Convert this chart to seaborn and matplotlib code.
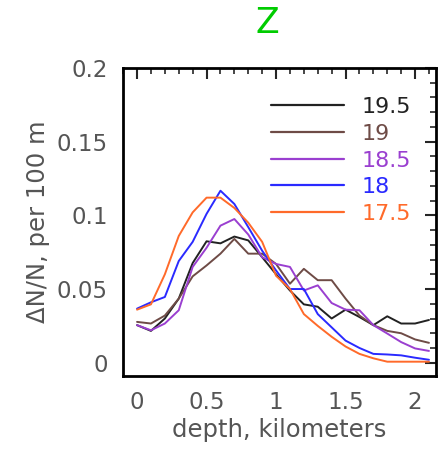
import numpy as np
import pandas as pd
import matplotlib
matplotlib.use("Agg")
import matplotlib.pyplot as plt
import seaborn as sns
from matplotlib.ticker import MultipleLocator

depth = [0.0, 0.1, 0.2, 0.3, 0.4, 0.5, 0.6, 0.7, 0.8, 0.9, 1.0,
         1.1, 1.2, 1.3, 1.4, 1.5, 1.6, 1.7, 1.8, 1.9, 2.0, 2.1]

s195 = [0.0255, 0.0216, 0.030, 0.0435, 0.0676, 0.0824, 0.081, 0.0856, 0.083, 0.0716, 0.060,
        0.049, 0.0396, 0.038, 0.030, 0.036, 0.031, 0.0255, 0.0315, 0.0266, 0.0266, 0.029]
s19 = [0.0277, 0.0266, 0.032, 0.0435, 0.0586, 0.066, 0.074, 0.084, 0.074, 0.074, 0.067,
       0.0536, 0.0637, 0.056, 0.056, 0.0435, 0.032, 0.0255, 0.0216, 0.020, 0.0158, 0.0135]
s185 = [0.0255, 0.022, 0.0266, 0.0356, 0.065, 0.078, 0.093, 0.0975, 0.087, 0.0716, 0.067,
        0.065, 0.049, 0.0525, 0.0405, 0.036, 0.0356, 0.0255, 0.0198, 0.014, 0.0097, 0.008]
s18 = [0.0367, 0.041, 0.0446, 0.069, 0.082, 0.101, 0.1167, 0.1077, 0.092, 0.076, 0.0626,
       0.050, 0.050, 0.033, 0.024, 0.015, 0.010, 0.006, 0.0056, 0.005, 0.0034, 0.002]
s175 = [0.036, 0.0396, 0.060, 0.086, 0.102, 0.112, 0.112, 0.105, 0.095, 0.082, 0.059,
        0.050, 0.033, 0.025, 0.0176, 0.011, 0.006, 0.003, 0.0007, 0.0007, 0.0007, 0.0007]

labels = ["19.5", "19", "18.5", "18", "17.5"]
series = [s195, s19, s185, s18, s175]
colors = ["#222222", "#6e4b46", "#9a3fd0", "#2a2aff", "#ff6a2a"]

df = pd.concat([pd.DataFrame({"depth": depth, "value": s, "mag": lab})
                for lab, s in zip(labels, series)], ignore_index=True)

sns.set_style("white")
plt.rcParams["font.family"] = ["DejaVu Sans"]

fig = plt.figure(figsize=(4.43, 4.53), dpi=100)
ax = fig.add_axes([0.278, 0.170, 0.706, 0.680])

sns.lineplot(data=df, x="depth", y="value", hue="mag", hue_order=labels,
             palette=dict(zip(labels, colors)), linewidth=1.4, ax=ax,
             estimator=None, sort=False)

ax.set_xlim(-0.1, 2.15)
ax.set_ylim(-0.009, 0.2)
ax.xaxis.set_minor_locator(MultipleLocator(0.1))
ax.yaxis.set_minor_locator(MultipleLocator(0.01))
ax.set_xticks([0, 0.5, 1, 1.5, 2])
ax.set_xticklabels(["0", "0.5", "1", "1.5", "2"])
ax.set_yticks([0, 0.05, 0.1, 0.15, 0.2])
ax.set_yticklabels(["0", "0.05", "0.1", "0.15", "0.2"])
ax.tick_params(which="major", direction="in", length=8, width=1.5,
               top=True, right=True, labelsize=16.5, labelcolor="#555555")
ax.tick_params(axis="y", which="major", pad=11)
ax.tick_params(axis="x", which="major", pad=11)
ax.tick_params(which="minor", direction="in", length=4, width=1.2,
               top=True, right=True)
for sp in ax.spines.values():
    sp.set_linewidth(2)
    sp.set_color("black")

ax.set_xlabel("depth, kilometers", fontsize=17.5, color="#555555", labelpad=3)
ax.set_ylabel("ΔN/N, per 100 m", fontsize=17.5, color="#555555", labelpad=5)
fig.text(267 / 443, 1 - 23 / 453, "Z", fontsize=25, color="#00cc00",
         ha="center", va="center")

leg = ax.legend(loc="upper right", frameon=False, fontsize=16, handlelength=3.3,
                labelspacing=0.3, handletextpad=0.8, bbox_to_anchor=(0.985, 0.97),
                labelcolor="linecolor")
for line in leg.get_lines():
    line.set_linewidth(1.6)

fig.savefig("out.png", dpi=100)
